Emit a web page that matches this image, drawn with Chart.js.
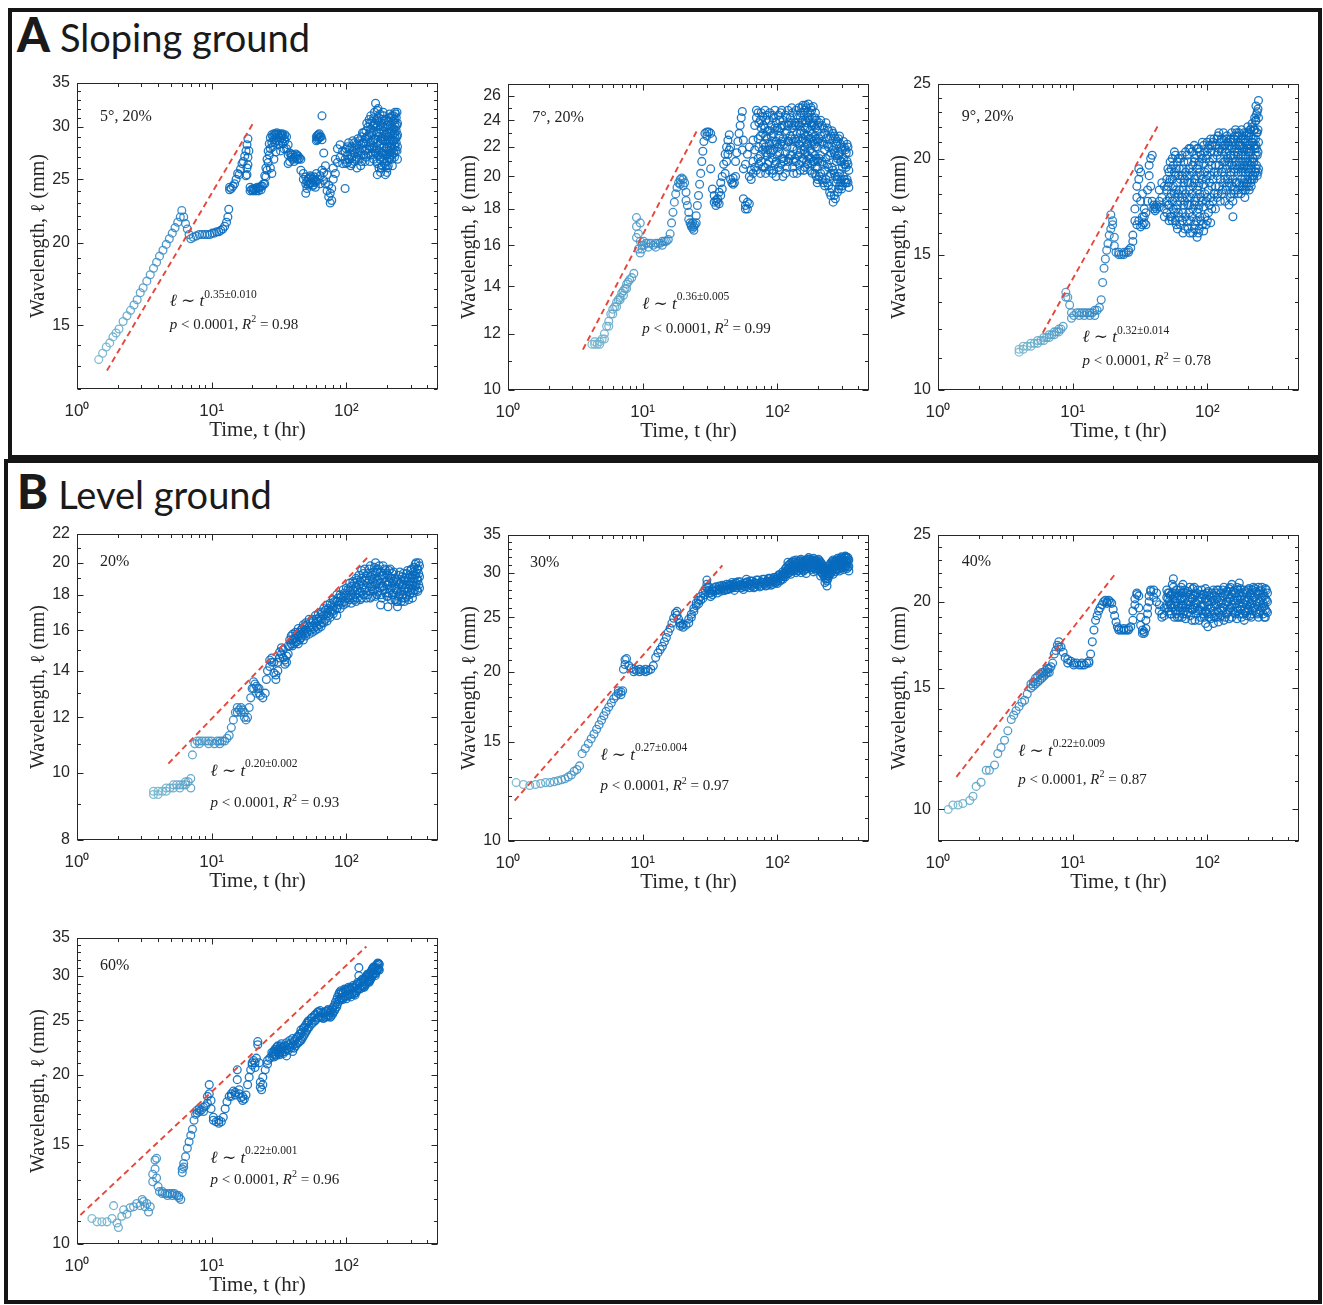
<!DOCTYPE html>
<html><head><meta charset="utf-8">
<script src="https://cdn.jsdelivr.net/npm/chart.js"></script>
<style>
html,body{margin:0;padding:0;background:#fff}
body{width:1323px;height:1305px;position:relative;overflow:hidden}
.box{position:absolute;border:4px solid #151515;box-sizing:border-box}
.hdr{position:absolute;font-family:Lato,"Open Sans",sans-serif;font-size:38px;line-height:1;color:#1a1a1a;white-space:nowrap}
.hdr b{font-size:47px;font-weight:900;margin-right:10px;letter-spacing:0}
.panel{position:absolute}
</style></head>
<body>
<div class="box" style="left:8px;top:8px;width:1314px;height:451px"></div>
<div class="box" style="left:4px;top:459px;width:1318px;height:845px"></div>
<div class="hdr" style="left:17px;top:11px"><b>A</b>Sloping ground</div>
<div class="hdr" style="left:17px;top:468px"><b>B</b>Level ground</div>
<div id="panels"></div>
<script>
// ---------- DATA ----------
// x axis (time, hr) — shared by all panels
const xTicks = [1, 10, 100];
const xTickLabels = ['10\u2070', '10\u00B9', '10\u00B2'];
const xMinorTicks = [2,3,4,5,6,7,8,9,20,30,40,50,60,70,80,90,200,300,400];

// Each row: [time, wavelength, wavelength, ...]  (several circles at about the same time)
const slope5Rows = [
[1.45,13.3],[1.55,13.6],[1.65,13.9],[1.75,14.1],[1.85,14.4],[1.95,14.6],[2.05,14.8],[2.2,15.2],[2.35,15.5],[2.5,15.8],[2.65,16.1],[2.8,16.4],[2.95,16.8],[3.1,17.1],[3.3,17.5],[3.5,17.9],[3.7,18.3],[3.9,18.7],[4.1,19.1],[4.35,19.5],[4.6,19.9],[4.85,20.3],[5.1,20.7],[5.35,21.1],[5.6,21.5],[5.85,21.9],[6.0,22.4],[6.2,21.9],[6.4,21.4],[6.6,21.0],[6.8,20.6],[7.0,20.3],
[7.3,20.4],[7.7,20.5],[8.1,20.6],[8.5,20.6],[8.9,20.6],[9.3,20.6],[9.7,20.6],[10.1,20.7],[10.5,20.7],[10.9,20.8],[11.3,20.8],[11.7,20.9],[12.1,21.0],[12.5,21.2],[12.9,21.5],[13.2,21.9],[13.4,22.5],
[13.6,24.1,24.3],[14.0,24.2],[14.4,24.4],[14.8,24.6],[15.2,25.0],[15.6,25.5],[16.0,25.4],[16.4,25.9],[16.8,26.4],[17.2,26.6],[17.6,27.1],[18.0,27.6,25.3],[18.3,28.2,26.0,25.4],[18.6,28.8,27.0,26.3],[18.9,27.6],
[19.3,24.3,24.0],[19.8,24.1],[20.3,24.2,24.0],[20.8,24.1],[21.3,24.2,24.0],[21.8,24.3],[22.3,24.2,24.0],[22.8,24.3],[23.3,24.4,24.1],[23.8,24.4],[24.3,24.6],
[24.8,25.3,24.6],[25.3,26.0,25.2],[25.8,26.8,25.8],[26.3,27.6,26.5],[26.8,28.3,27.2],[27.3,28.9,27.8,26.0],[28,29.2,28.4,25.5],[29,29.3,28.7,26.8],[30,29.3,28.9,27.5],[31,29.2],[32,29.3,28.6],[33,29.2,28.9],[34,29.1,28.3],[35,29.2,28.6],[36,29.0,27.8],[37,28.2,27.2,26.4],[38,27.4,26.6],[39,27.3,27.0],[40,27.2,26.8],[42,27.3,27.0],[44,27.1,26.8],[46,26.8,25.8],[48,25.5,25.0],[50,25.2,24.6,23.8],[52,25.0,24.5],[54,25.3,24.6],[56,25.0,24.4],[58,25.2,24.7],[60,25.5,24.8,28.6,29.0],[62,25.0,28.8,29.2],[64,25.3,24.6,29.0],[66,31.2,28.7,25.8],[68,25.6,24.9,27.4],[70,26.2,24.6],[72,25.4,24.0],[74,24.5,23.5],[76,23.8,23.0],[78,24.2,23.2],[80,25.0,26.0],[83,26.8,25.5],[86,27.8,26.5],[90,28.2,27.0],[94,27.6,26.4],[98,26.8,24.2,27.5],[102,27.2,26.5,28.0],[106,27.8,26.8],[110,28.0,27.0,26.4],[115,27.4,26.6,28.4],[120,28.2,27.0,26.0],[125,28.6,27.6,26.8],[130,29.0,27.8,26.6],[135,28.4,27.2,29.4],[140,29.6,28.4,27.0],[145,30.0,28.8,27.4],[150,29.4,28.0,26.6,30.4],[155,30.6,29.2,27.8],[160,31.0,29.6,28.0,26.8],[165,32.6,30.4,28.8,27.4],[170,31.8,30.0,28.4,26.4,25.4],[175,31.0,29.4,27.6,26.0],[180,30.2,28.6,27.0,25.6],[185,30.8,29.0,27.4,26.2],[190,31.2,29.6,28.0,26.8],[195,30.0,28.6,27.2,25.4],[200,29.4,28.0,26.6,25.6],[205,30.6,29.0,27.6,26.2],[210,31.4,29.8,28.4,27.0],[215,31.0,29.4,28.0],[220,30.0,28.6,27.2,26.2],[225,31.2,29.8,28.6,27.4],[230,31.6,30.4,29.2,28.0],[235,31.0,29.6,28.4],[240,30.4,29.2,28.0,26.8],
[28.5,29.0,28.0],[29.5,29.2,28.4],[30.5,29.4,28.6],[31.5,29.0,28.2],[32.5,29.2,27.6],[33.5,29.3,28.4],[34.5,28.8,27.8],[41,27.0,26.6],[43,27.2,26.8],[45,26.9],[51,24.8,24.2],[53,24.6,25.1],[55,24.7,25.2],[57,24.5,25.0],[59,24.9,24.3],[61,29.1,28.7],[63,28.9,29.3],[65,29.0],
[100,27.8,26.4],[104,28.4,26.8],[108,27.2,26.2],[112,28.6,27.6],[118,27.8,26.8],[122,28.8,27.4],[128,28.2,27.2,26.2],[132,29.4,28.4],[138,28.8,27.6,26.6],[142,30.4,29.0,27.8],[148,30.8,29.2,27.8],[152,31.2,29.8,28.4,27.2],[158,30.2,28.6,27.4],[162,31.6,30.2,28.8,27.6],[168,30.8,29.4,27.8,26.6],[172,32.0,30.6,29.0,27.2],[178,31.4,29.8,28.2,26.8],[182,30.4,28.8,27.4,26.0],[188,31.6,30.0,28.6,27.2],[192,30.6,29.0,27.6,26.4],[198,30.8,29.2,27.8,26.2],[202,30.2,28.8,27.2,26.0],[208,31.0,29.4,28.0,26.8],[212,30.2,28.6,27.4],[218,31.2,29.6,28.2,26.8],[222,30.6,29.2,27.8],[228,30.8,29.4,28.2,27.0],[232,31.4,30.0,28.8,27.6],[238,31.6,30.2,29.0,27.6]
];
const slope5Fit = [[1.67,12.8],[20.7,30.6]];
const slope5YTicks = [15,20,25,30,35];

const slope7Rows = [
[4.2,11.6],[4.4,11.6,11.7],[4.6,11.6],[4.8,11.7,11.6],[5.0,11.8],[5.2,12.0,11.8],[5.4,12.3],[5.6,12.5,12.3],[5.8,12.8],[6.0,13.0,12.8],[6.2,13.1],[6.4,13.3,13.1],[6.6,13.4],[6.8,13.5,13.4],[7.0,13.7],[7.2,13.8,13.6],[7.4,13.9],[7.6,14.1,13.9],[7.8,14.2],[8.0,14.3],[8.3,14.4],[8.6,14.6],
[9.0,16.4,17.0,17.5],[9.3,15.8,16.6],[9.6,15.6,16.2,17.2],[9.9,16.0,15.8],[10.2,16.2,16.0],[10.6,16.1],[11,16.1,15.9],[11.5,16.1],[12,16.0],[12.5,16.1,15.9],[13,16.1],[13.5,16.1],[14,16.2,16.0],[14.5,16.2],[15,16.2],[15.5,16.3],[16,16.6],[16.4,17.2],[16.8,17.8],[17.2,18.4],[17.6,18.9],[18,19.3],[18.5,19.6],[19,19.8,19.5],[19.5,19.9],[20,19.8,19.4],[20.5,19.6],[21,19.0,18.5],[21.5,18.2],[22,17.8,17.4],[22.5,17.2],[23,17.0,17.1],[23.5,16.9,17.2],[24,17.0,16.8],[24.5,17.1],[25,17.2,17.6],[25.5,18.2],[26,18.8],[26.5,19.5],[27,20.2],[27.5,21.0],[28,21.7],[28.5,22.4],[29,23.0],[30,23.1,22.8],[31,23.1],[32,23.0,20.5],[33,22.6,19.2],[34,18.8,18.4],[35,18.2,18.5],[36,18.4,18.6],[37,18.3,19.0],[38,18.8,19.6],[39,20.0,19.2],[40,20.8],[41,21.5,20.2],[42,22.0,21.0],[43,22.5,21.5],[44,22.9,21.8],[45,22.0,19.8],[46,19.6],[47,19.5,19.9],[48,19.6],[49,20.0,21.0],[50,21.6],[51,22.4],[52,23.0],[53,23.6],[54,24.2],[55,24.7,21.8],[56,22.5,20.5,18.6],[58,18.2,18.0,20.8],[60,18.0,18.4,21.5],[62,18.3,22.0,20.0],[64,19.8,20.4],[66,20.2,21.0,22.5],[68,21.8,23.6,20.6],[70,24.2,24.8,20.4],[72,24.6,22.6,21.2],[75,24.0,22.8,21.4,20.2],[78,24.3,23.0,21.8],[81,24.8,23.4,22.0,20.6],[84,24.4,22.6,21.4],[87,24.0,22.2,21.0,20.4],[90,23.6,22.8,21.6],[94,24.2,23.0,21.8,20.4],[98,23.8,22.4,21.0,20.0],[102,24.4,23.2,22.0,20.6],[106,24.6,23.4,22.2,20.8],[110,24.0,22.6,21.2,20.0],[115,24.4,23.0,21.6,20.2],[120,24.8,23.6,22.4,21.0],[125,24.2,22.8,21.4],[130,24.6,23.4,22.0,20.6],[135,23.8,22.6,21.2],[140,24.4,23.0,21.8,20.2],[145,25.0,23.6,22.2,20.8],[150,24.6,23.2,21.8],[155,25.2,24.0,22.6,21.2],[160,24.8,23.4,22.0,20.6],[165,25.0,23.8,22.4,21.0],[170,25.3,24.2,22.8,21.4],[175,24.6,23.2,21.8,20.4],[180,24.8,23.6,22.2,20.8],[185,25.1,23.8,22.4,21.0],[190,24.2,22.8,21.4,20.2],[195,24.0,22.6,21.2,20.0],[200,23.6,22.4,21.0,19.8],[210,24.0,22.8,21.4,20.2],[220,23.4,22.2,20.8,19.6],[230,23.8,22.6,21.2,19.8],[240,23.2,22.0,20.6,19.4],[250,22.8,21.6,20.2,18.8],[260,23.0,21.8,20.4,18.4],[270,22.6,21.4,20.0,18.6],[280,22.4,21.2,19.8,19.0],[290,22.8,21.6,20.2,19.4],[300,22.0,21.0,19.8,19.2],[310,22.4,21.2,20.0],[320,21.8,20.8,19.6],[330,22.2,21.0,19.8],[340,21.6,20.4,19.3],
[73,23.8,22.0,20.8],[76,24.6,23.4,21.0],[79,23.6,22.2,20.6],[82,24.0,22.8,21.6,20.2],[85,23.2,21.8,20.8],[88,24.6,23.2,21.8],[92,24.4,22.4,21.2,20.2],[96,24.8,23.4,22.2,20.8],[100,23.4,22.2,21.4],[104,24.0,22.8,21.6,20.4],[108,24.8,23.6,22.4,21.2],[112,23.6,22.2,21.0],[118,24.2,23.2,22.0,20.6],[122,23.8,22.4,21.2],[128,25.0,23.8,22.6,21.4],[132,23.6,22.4,21.0,20.2],[138,24.8,23.6,22.4,21.0],[142,23.8,22.6,21.4],[148,24.2,23.0,21.6,20.4],[152,25.0,23.8,22.4,21.0],[158,24.4,23.0,21.8,20.4],[162,25.2,24.0,22.8,21.6],[168,24.6,23.4,22.2,20.8],[172,24.0,22.6,21.2],[178,25.0,23.8,22.6,21.2],[182,24.2,23.0,21.6,20.2],[188,23.6,22.2,21.0],[192,24.6,23.4,22.0,20.6],[198,23.2,22.0,20.6,19.6],[205,23.8,22.6,21.2,20.0],[215,23.6,22.4,21.0,19.8],[225,23.0,21.8,20.4,19.4],[235,23.4,22.2,20.8,19.6],[245,22.6,21.4,20.0,19.0],[255,23.2,22.0,20.6,19.2],[265,22.8,21.6,20.2,18.8],[275,22.2,21.0,19.6],[285,22.6,21.4,20.0,19.2],[295,22.2,21.0,19.6],[305,21.8,20.6,19.4],[315,22.0,20.8,19.8],[325,21.6,20.6,19.6],[335,22.0,20.8,19.6]
];
const slope7Fit = [[3.6,11.4],[25.6,23.3]];
const slope7YTicks = [10,12,14,16,18,20,22,24,26];

const slope9Rows = [
[4.0,11.3,11.2],[4.3,11.3,11.4],[4.6,11.4],[4.9,11.5,11.4],[5.2,11.5],[5.5,11.6,11.5],[5.8,11.6],[6.1,11.7,11.6],[6.4,11.7],[6.7,11.8,11.7],[7.0,11.8],[7.3,11.9,11.8],[7.6,11.9],[7.9,12.0,11.9],[8.2,12.0],[8.5,12.1],
[8.9,13.4,13.2],[9.2,13.2],[9.5,12.9],[9.8,12.6,12.4],[10.2,12.5],[10.7,12.6],[11.2,12.6,12.5],[11.7,12.6],[12.2,12.6,12.5],[12.8,12.6],[13.4,12.6,12.5],[14,12.6],[14.6,12.7,12.5],[15.2,12.7],[15.8,12.8],[16.3,13.1],[16.7,13.8],[17.1,14.4],[17.5,14.8],[17.9,15.2],[18.3,15.5],[18.7,15.9],[19.2,16.2,16.9],[19.8,16.4,16.6],[20.4,15.4,15.8],[21,15.1],[22,15.0,15.1],[23,15.0],[24,15.1,15.0],[25,15.1],[26,15.2,15.1],[27,15.3],[28,15.6,15.9],[29,16.6,17.2],[30,17.8,18.4,16.4],[31,18.8,19.4,16.6],[32,19.2,17.6,16.3],[33,18.0,16.8,16.4],[34,16.5,16.8,17.2],[35,16.4,17.0],[36,17.6,18.2],[37,19.0,19.6],[38,20.0,18.4],[39,20.2,17.6],[40,17.2,17.4],[41,17.3,17.1],[42,17.2,17.4],[44,17.3,17.6,18.2],[46,17.8,18.6],[48,18.4,17.2,16.8],[50,17.0,17.6,18.2,18.8],[52,18.6,19.2,17.4,16.6],[54,19.4,18.0,16.8],[56,17.2,18.4,19.6],[58,16.6,17.8,19.0,20.2],[60,16.2,17.4,18.6,19.8],[63,16.4,17.6,18.8,20.0],[66,17.0,18.2,19.4,16.0],[69,16.8,18.0,19.2,20.4],[72,16.2,17.4,18.6,19.8],[75,16.6,17.8,19.0,20.6],[78,16.0,17.2,18.4,19.6],[81,16.4,17.6,18.8,20.0],[84,15.8,17.0,18.2,19.4,20.6],[87,16.2,17.4,18.6,19.8],[90,16.6,17.8,19.0,20.2],[94,16.1,17.3,18.5,19.7,20.8],[98,16.4,17.6,18.8,20.0],[102,17.0,18.2,19.4,20.6],[106,16.5,17.8,19.0,20.4,21.2],[110,17.6,18.8,20.0,21.0],[115,17.2,18.4,19.6,20.8],[120,18.0,19.2,20.4,21.4],[125,17.6,18.8,20.0,21.0],[130,18.2,19.4,20.6],[135,18.8,19.8,20.8,17.6],[140,18.4,19.6,20.6,21.4],[145,17.4,18.6,19.8,20.8],[150,18.0,19.2,20.2,21.2],[155,17.6,18.8,20.0,21.0,16.8],[160,18.2,19.4,20.4,21.4],[165,18.6,19.6,20.6,21.6],[170,18.0,19.2,20.2,21.0],[175,18.4,19.6,20.8],[180,18.8,19.8,20.8,21.8],[185,18.2,19.2,20.2,21.2],[190,17.8,18.8,19.8,21.0],[195,18.4,19.4,20.4,21.4],[200,18.8,19.8,20.8,22.0],[205,18.2,19.2,20.4,21.6],[210,18.6,19.6,20.6,21.8],[215,18.8,19.8,21.0,22.2],[220,19.0,20.0,21.2],[225,19.2,20.6,21.8,22.6],[230,19.4,20.8,22.4,23.4],[235,19.0,20.2,21.6,23.0],[240,19.4,21.0,22.6,23.8],
[51,17.4,18.4,19.4],[53,16.8,17.8,18.8,19.8],[55,16.6,17.6,18.8,20.0],[57,17.0,18.0,19.2,20.4],[59,16.4,17.2,18.2,19.4],[61,17.0,18.0,19.0,20.0],[62,16.8,18.2,19.4],[65,16.6,17.8,19.0,20.2],[67,17.4,18.6,19.8],[68,16.2,17.6,18.8],[71,16.6,17.8,19.0,20.2],[73,17.0,18.2,19.4,20.6],[74,16.0,17.4,18.6],[77,16.8,18.0,19.2,20.4],[80,16.2,17.4,18.6,19.8,20.8],[83,16.6,17.8,19.0,20.2],[86,16.0,17.2,18.4,19.6,20.6],[88,16.8,18.0,19.2,20.4],[92,16.4,17.6,18.8,20.0,21.0],[96,16.8,18.0,19.2,20.4],[100,16.6,17.8,19.0,20.2,21.0],[104,17.4,18.6,19.8,20.8],[108,17.2,18.4,19.6,20.8],[112,18.0,19.2,20.4,21.2],[118,17.8,19.0,20.2,21.2],[122,18.4,19.6,20.6,21.6],[128,18.0,19.2,20.4,21.2],[132,18.6,19.8,20.8,21.6],[138,18.2,19.4,20.4,21.2],[142,18.8,20.0,21.0],[148,17.8,19.0,20.2,21.2],[152,18.4,19.6,20.6,21.6],[158,18.0,19.2,20.2,21.2],[162,18.6,19.8,20.8,21.8],[168,18.2,19.4,20.4,21.4],[172,18.6,19.8,20.8,21.6],[178,18.0,19.2,20.2,21.2],[182,18.4,19.4,20.4,21.4],[188,18.6,19.6,20.6,21.6],[192,18.2,19.2,20.2,21.2],[198,18.6,19.6,20.6,21.6],[202,18.4,19.4,20.4,21.4],[208,18.8,19.8,20.8,21.8],[212,18.4,19.4,20.4,21.4],[218,19.0,20.0,21.0,22.0],[222,18.8,19.8,20.8,21.8],[228,19.2,20.2,21.2,22.4],[232,19.6,20.6,21.6,22.8],[238,19.2,20.4,21.8,23.2]
];
const slope9Fit = [[6.0,11.87],[43.9,22.2]];
const slope9YTicks = [10,15,20,25];

const level20Rows = [
[3.7,9.4,9.3],[4.0,9.4,9.3],[4.3,9.4],[4.6,9.5,9.4],[4.9,9.5],[5.2,9.5,9.6],[5.5,9.6],[5.8,9.6,9.5],[6.1,9.6],[6.4,9.7,9.6],[6.7,9.7],[7.0,9.8,9.5],
[7.2,10.6],[7.5,11.0],[7.8,11.1],[8.1,11.1,11.0],[8.5,11.1],[9,11.1],[9.5,11.0,11.1],[10,11.1],[10.5,11.0],[11,11.1],[11.5,11.1,11.0],[12,11.1],[12.5,11.1],[13,11.2],[13.5,11.3],[14,11.6],[14.5,11.9],[15,12.2],[15.5,12.4,12.2],[16,12.3],[16.5,12.4,12.2],[17,12.3],[17.5,12.2,12.0],[18,11.9],[18.5,12.0],[19,12.4],[19.5,12.8],[20,13.2],[20.5,13.5,13.2],[21,13.4],[21.5,13.3,13.0],[22,13.2],[22.5,13.0,13.2],[23,12.9],[24,12.8],[25,13.0],[25.5,13.6],[26,14.0],[27,14.5,14.2],[28,14.6,14.4],[29,14.4,13.9],[30,13.8,13.6],[31,14.0,14.4],[32,14.6,14.9],[33,14.8,15.1],[34,15.0,14.6],[35,14.5,14.3],[36,14.4,14.7],[37,15.2,14.8],[38,15.5,15.2],[39,15.7,15.3],[40,15.8,15.5,15.2],[42,15.9,15.4,15.6],[44,16.1,15.7,15.3],[46,16.0,15.6,15.8],[48,16.3,15.9,15.5],[50,16.4,16.0,15.7],[53,16.2,15.8,16.6],[56,16.6,16.2,15.9],[59,16.8,16.4,16.0],[62,16.5,16.1,16.9],[65,17.0,16.6,16.2],[68,17.2,16.8,16.4],[72,16.9,16.5,17.4],[76,17.5,17.1,16.7],[80,17.3,16.9,17.7],[85,17.6,17.2,16.8,18.0],[90,18.0,17.6,17.2],[95,17.8,17.4,18.3],[100,18.4,18.0,17.5],[106,18.2,17.7,18.7],[112,18.8,18.3,17.8],[118,18.5,18.0,19.0,17.6],[124,19.2,18.6,18.1],[130,19.0,18.4,17.8,19.5],[137,19.6,18.9,18.3],[144,19.3,18.7,18.0],[151,19.8,19.1,18.5,17.8],[158,19.4,18.8,18.2],[165,20.0,19.3,18.6,17.9],[172,19.6,18.9,18.2],[180,19.4,18.7,18.0,17.4],[188,19.8,19.2,18.5],[196,19.5,18.8,18.1],[204,19.2,18.6,17.9,17.3],[212,19.6,19.0,18.3],[220,19.3,18.7,18.0],[230,19.0,18.4,17.7],[240,18.8,18.2,17.6,17.3],[250,19.4,18.7,18.0],[260,19.1,18.5,17.8],[270,18.9,18.3,17.6],[280,19.3,18.6,17.9],[290,19.0,18.4,17.7],[300,19.5,18.8,18.1],[310,19.2,18.6,17.8],[320,19.7,19.0,18.3],[330,20.0,19.3,18.6],[340,19.6,18.9,18.2],[350,19.8,19.1,18.4],
[41,15.6,15.3],[43,15.8,15.4],[45,15.9,15.5],[47,16.1,15.7],[49,16.2,15.8],[51,16.3,15.9],[54,16.4,16.0],[57,16.5,16.1],[60,16.6,16.2],[63,16.7,16.3],[66,16.9,16.4],[70,17.1,16.6],[74,17.2,16.8],[78,17.4,17.0],[82,17.6,17.1],[87,17.8,17.4],[92,17.9,17.5],[97,18.1,17.6],[103,18.3,17.8],[109,18.5,18.0,17.5],[115,18.7,18.2,17.7],[121,18.9,18.3,17.8],[127,18.8,18.2,17.7],[134,19.3,18.6,18.0],[141,19.0,18.4,17.8],[148,19.6,18.9,18.2],[155,19.2,18.5,17.9],[162,19.7,19.0,18.3],[169,19.4,18.7,18.0],[176,19.8,19.0,18.4],[184,19.2,18.5,17.8],[192,19.6,19.0,18.3],[200,19.3,18.6,17.9],[208,19.5,18.8,18.1],[216,19.0,18.4,17.7],[225,19.4,18.8,18.1],[235,18.9,18.3,17.6],[245,19.2,18.6,17.9],[255,18.8,18.2,17.6],[265,19.3,18.6,18.0],[275,19.0,18.4,17.8],[285,19.5,18.8,18.2],[295,19.2,18.6,18.0],[305,19.6,19.0,18.3],[315,19.4,18.8,18.1],[325,19.9,19.2,18.5],[335,19.6,19.0,18.3],[345,20.0,19.3,18.6]
];
const level20Fit = [[4.77,10.3],[149,20.5]];
const level20YTicks = [8,10,12,14,16,18,20,22];

const level30Rows = [
[1.15,12.7],[1.3,12.6],[1.45,12.55],[1.6,12.6],[1.75,12.65],[1.9,12.7],[2.05,12.7],[2.2,12.75],[2.35,12.8],[2.5,12.85],[2.65,12.9],[2.8,13.0],[2.95,13.1],[3.1,13.3],[3.25,13.4],[3.4,13.6],[3.55,14.3],[3.75,14.6],[3.95,14.9],[4.15,15.2],[4.35,15.5],[4.55,15.8],[4.75,16.1],[4.95,16.4],[5.15,16.7],[5.35,17.0],[5.6,17.3],[5.85,17.6],[6.1,17.9],[6.35,18.1],[6.6,18.3,18.5],[6.9,18.4,18.2],[7.1,18.5],
[7.2,20.2],[7.4,21.0,20.6],[7.6,21.1],[7.9,20.5],[8.2,20.3],[8.6,20.2,20.0],[9,20.1],[9.5,20.2,20.0],[10,20.1],[10.5,20.2,20.0],[11,20.1],[11.5,20.2],[12,20.5],[12.5,21.2],[13,21.6],[13.5,21.9],[14,22.2],[14.5,22.6],[15,23.0],[15.5,23.5],[16,23.9],[16.5,24.4],[17,24.9],[17.5,25.4],[18,25.6,25.2],[18.5,24.8],[19,24.4,24.1],[19.5,24.2],[20,24.0,24.3],[21,24.2],[22,24.4,24.8],[23,25.0,25.3],[24,25.6,25.9],[25,26.2,26.5],[26,26.8,26.4],[27,27.2,26.8],[28,27.6,27.0],[29,28.0,27.4],[30,28.6,28.2,29.1],[31,28.3,27.6],[32,27.2,27.6],[33,27.4,27.8],[34,27.8,28.2],[36,27.6,28.0],[38,28.2,27.8],[40,27.9,28.4],[42,28.6,28.0],[44,28.1,28.6],[46,28.8,28.3],[48,28.4,27.9],[50,28.2,28.7],[53,28.9,28.4],[56,28.5,28.0],[59,28.3,28.8,29.2],[62,28.7,28.2],[65,28.4,29.0],[68,28.8,28.3],[72,28.5,29.1],[76,28.9,28.4],[80,28.6,29.2],[84,29.0,28.5],[88,28.7,29.3],[92,29.1,28.6],[96,28.8,29.4],[100,29.0,29.5,28.7],[105,29.4,29.8,29.0],[110,29.6,30.1,29.2],[115,30.0,30.5,29.5],[120,30.4,30.9,29.9,31.3],[126,30.7,31.2,30.2,29.8],[132,31.0,31.5,30.4],[138,30.6,31.1,30.0,31.6],[144,30.9,31.4,30.3],[150,31.2,31.7,30.6,30.0],[157,30.8,31.3,30.2],[164,31.1,31.6,30.5,29.9],[171,31.4,31.9,30.8],[178,31.0,31.5,30.4],[186,31.3,31.8,30.7,30.1],[194,30.9,31.4,30.3],[202,31.2,31.7,30.6],[210,30.8,31.3,30.1,29.6],[218,30.4,30.9,29.8],[226,30.0,30.6,29.4,28.8],[234,29.6,30.2,29.0,28.4],[242,30.2,30.8,29.6],[250,30.6,31.2,30.0],[260,31.0,31.6,30.4,29.8],[270,30.7,31.3,30.1],[280,31.2,31.8,30.5],[290,30.9,31.5,30.2],[300,31.4,32.0,30.8],[310,31.0,31.6,30.4],[320,31.5,32.1,30.8],[330,31.2,31.8,30.5],[340,31.6,30.8,30.2],
[31,27.9],[33,28.0],[35,27.9,28.3],[37,28.0,28.4],[39,28.1,28.5],[41,28.3,27.9],[43,28.4,28.0],[45,28.5,28.1],[47,28.6,28.2],[49,28.4,28.8],[51,28.5,28.9],[54,28.6,28.2],[57,28.7,28.3],[60,28.5,28.9],[63,28.6,29.0],[67,28.6,28.2],[70,28.7,29.1],[74,28.7,28.3],[78,28.8,29.2],[82,28.8,28.4],[86,28.9,29.3],[90,28.9,28.5],[94,29.0,29.4],[98,29.2,28.8],[102,29.3,29.7],[107,29.6,29.2],[112,29.9,29.5],[117,30.2,29.8,30.6],[123,30.5,30.0,31.0],[129,30.8,30.3,31.3],[135,30.8,30.3,31.3],[141,30.7,30.2,31.2],[147,31.0,30.5,31.5],[153,31.0,30.4,31.5],[160,30.9,30.4,31.5],[167,31.2,30.7,31.7],[174,31.2,30.6,31.7],[182,31.1,30.6,31.6],[190,31.1,30.5,31.6],[198,31.0,30.5,31.5],[206,31.0,30.4,31.5],[214,30.6,30.0,31.1],[222,30.2,29.6,30.7],[230,29.8,29.2,30.4],[238,29.9,29.3,30.5],[246,30.4,29.8,31.0],[255,30.8,30.2,31.4],[265,30.9,30.3,31.4],[275,31.0,30.4,31.6],[285,31.0,30.4,31.6],[295,31.2,30.6,31.8],[305,31.2,30.6,31.8],[315,31.3,30.7,31.9],[325,31.4,30.8,32.0],[335,31.4,30.7,31.9]
];
const level30Fit = [[1.12,11.8],[39.1,30.9]];
const level30YTicks = [10,15,20,25,30,35];

const level40Rows = [
[1.19,10.0],[1.29,10.15],[1.41,10.15],[1.53,10.2],[1.72,10.3],[1.82,10.45],[1.92,10.8],[2.09,10.95],[2.28,11.4],[2.41,11.4],[2.63,11.6],[2.78,12.05],[2.94,12.3],[3.12,12.6],[3.3,13.0],[3.5,13.5],[3.65,13.7],[3.8,13.9],[4.0,14.1],[4.2,14.3],[4.4,14.4],[4.6,14.7],[4.9,15.0,15.2],[5.1,15.3,15.1],[5.3,15.5,15.2],[5.5,15.6,15.3],[5.7,15.7,15.4],[5.9,15.8,15.5],[6.1,15.8,15.6],[6.3,15.9,15.7],[6.5,16.0,15.8],[6.7,16.0,15.8],[6.9,16.1],[7.1,16.3],[7.3,16.8],[7.5,17.0],[7.7,17.3],[7.9,17.5,17.2],[8.2,17.2],[8.5,16.9],[8.8,16.6],[9.2,16.5,16.3],[9.7,16.4],[10.2,16.3,16.2],[10.7,16.3],[11.2,16.2],[11.7,16.3,16.2],[12.2,16.2],[12.7,16.3],[13.2,16.3,16.4],[13.6,16.8],[14.0,17.5],[14.4,18.2],[14.8,18.8],[15.2,19.1],[15.6,19.4],[16.0,19.6],[16.5,19.8],[17,20.0],[17.5,20.1],[18,20.0,19.9],[18.5,20.1],[19,20.0],[19.5,19.9],[20,19.5],[20.5,19.1],[21,18.7],[21.5,18.4],[22,18.3,18.2],[23,18.2],[24,18.2,18.3],[25,18.2],[26,18.3,18.2],[27,18.4],[28,18.8,19.4],[29,19.8,20.2],[30,20.5,20.6],[31,20.4,19.6],[32,19.0,18.5],[33,18.2,18.0],[34,18.0,18.1],[35,18.3,18.8],[36,19.2,19.6],[37,20.0,20.4],[38,20.7,20.8],[40,20.8,20.3],[42,20.6,20.0],[44,19.8,19.4],[46,19.0,19.2],[48,19.1,19.6],[50,19.8,20.3,20.8],[52,20.6,20.0,19.4],[54,19.2,19.8,20.5],[56,21.6,21.0,20.2],[58,19.4,20.0,20.6],[60,19.0,19.7,20.4],[63,20.2,20.8,19.4],[66,19.2,19.8,20.6,21.2],[69,18.9,19.6,20.4],[72,20.0,20.7,19.3],[75,19.1,19.8,20.5],[78,20.2,20.9,19.5],[81,18.8,19.6,20.4],[85,19.4,20.1,20.8],[89,19.0,19.7,20.5],[93,19.8,20.5,19.2],[97,18.6,19.4,20.2,20.9],[101,18.4,19.2,20.0,20.7],[106,19.6,20.3,18.9],[111,18.6,19.4,20.1,20.8],[116,19.0,19.8,20.6],[121,19.3,20.0,20.8,18.7],[127,19.1,19.9,20.6],[133,18.8,19.6,20.4,21.0],[139,19.2,20.0,20.7],[145,19.5,20.2,20.9,18.9],[152,19.0,19.8,20.5,21.2],[159,19.3,20.1,20.8],[166,19.6,20.3,21.0,18.9],[173,19.2,19.9,20.6,21.3],[180,19.0,19.7,20.4],[188,19.4,20.1,20.8,18.8],[196,19.1,19.8,20.6],[204,19.5,20.2,20.9],[212,19.2,19.9,20.6,19.0],[220,19.6,20.3,21.0],[230,19.3,20.0,20.7],[240,19.0,19.7,20.5,21.0],[250,19.4,20.1,20.8],[260,19.2,19.9,20.6],[270,19.5,20.2,20.9,19.0],[280,19.3,20.0,20.6],
[51,19.6,20.2,20.6],[53,19.8,20.4,19.2],[55,19.6,20.6,21.2],[57,19.8,20.4,19.0],[59,19.2,20.2,20.8],[62,19.6,20.4,19.0],[64,19.8,20.6,21.0],[65,19.0,19.6,20.2],[68,19.4,20.2,20.8],[70,19.2,19.8,20.6],[74,19.6,20.3,21.0],[77,18.8,19.5,20.2],[80,19.8,20.5,21.0],[83,19.2,19.9,20.6],[87,18.8,19.5,20.3],[91,19.4,20.2,20.8],[95,19.0,19.7,20.5],[99,19.3,20.0,20.6],[103,19.0,19.8,20.4],[108,19.2,20.0,20.6],[113,19.0,19.7,20.4],[118,19.4,20.2,20.8],[124,19.0,19.6,20.3],[130,19.4,20.1,20.8],[136,19.0,19.8,20.5],[142,19.3,20.0,20.7],[148,19.6,20.3,21.0],[155,19.4,20.1,20.7],[162,19.2,19.9,20.6],[169,19.4,20.1,20.8],[176,19.5,20.2,20.9],[184,19.2,19.9,20.6],[192,19.3,20.0,20.7],[200,19.4,20.1,20.8],[208,19.1,19.8,20.5],[216,19.4,20.1,20.8],[225,19.6,20.3,20.9],[235,19.2,19.9,20.6],[245,19.3,20.0,20.7],[255,19.6,20.3,21.0],[265,19.0,19.7,20.4],[275,19.4,20.1,20.8]
];
const level40Fit = [[1.37,11.15],[20.9,22.0]];
const level40YTicks = [10,15,20,25];

const level60Rows = [
[1.29,11.1],[1.41,10.95],[1.53,10.95],[1.67,10.95],[1.82,11.1],[1.87,11.7],[1.98,10.9],[2.03,10.7],[2.15,11.2],[2.22,11.5],[2.35,11.3],[2.48,11.6],[2.63,11.65],[2.78,11.8],[2.94,11.7],[3.05,12.0],[3.12,11.9],[3.2,11.65],[3.3,11.8],[3.4,11.4],[3.5,11.65],[3.65,12.9,13.3],[3.8,14.1,13.6],[3.9,14.2,13.1],[4.0,12.65],[4.1,12.4],[4.3,12.3,12.4],[4.5,12.3],[4.7,12.3,12.2],[4.9,12.3],[5.1,12.3,12.2],[5.3,12.3],[5.5,12.2],[5.7,12.2,12.1],[5.9,12.0],
[6.05,13.4,13.6],[6.2,13.9,13.7],[6.4,14.3],[6.6,14.8],[6.8,15.2],[7.0,15.6],[7.2,16.0],[7.4,16.6],[7.6,17.0],[7.8,17.3,17.1],[8.1,17.4,17.2],[8.4,17.3],[8.7,17.5,17.2],[9.0,17.6],[9.3,17.8,18.3],[9.6,19.2,18.5],[9.9,18.0,17.4],[10.3,16.8,16.6],[10.8,16.5],[11.3,16.4,16.6],[11.8,16.5],[12.2,16.8],[12.6,17.4],[13.0,17.9],[13.5,18.3],[14,18.5,18.3],[14.5,18.7],[15,18.6,18.4],[15.5,19.6,20.4],[16,18.8,18.5],[16.5,18.2],[17,18.0,18.3],[17.5,18.1],[18,18.4],[18.5,19.2],[19,19.8],[19.5,20.4],[20,20.8,21.0],[20.5,21.2],[21,21.0,20.6],[21.5,21.4],[22,22.6,22.9],[22.5,21.0],[23,19.4,19.0],[23.5,18.8],[24,19.2,19.8],[25,20.4],[26,20.9,21.2],[27,21.4],[28,21.6,21.9],[29,22.0,21.5],[30,22.2,21.6],[31,22.5,21.9],[32,22.3,21.7],[33,22.7,22.1],[34,22.4,21.8],[36,22.8,22.2,21.6],[38,23.0,22.4],[40,22.6,22.0,23.2],[42,23.1,22.5],[44,23.4,22.8],[46,23.7,23.0,24.0],[48,24.2,23.4],[50,24.5,23.8],[52,24.9,24.2],[55,25.2,24.6],[58,25.5,24.9],[61,25.8,25.2],[64,26.0,25.4],[67,25.7,25.2],[70,25.9,25.3],[73,26.1,25.5],[76,25.8,25.3],[79,26.2,25.6],[82,26.6,26.0],[85,27.2,26.4],[88,27.8,27.0],[91,28.2,27.4],[94,27.9,27.2],[97,28.4,27.6],[100,28.1,27.3],[104,28.6,27.8],[108,28.3,27.5],[112,28.8,28.0],[116,28.5,27.7],[120,29.0,28.2],[124,30.0,31.0],[128,29.2,28.5],[132,29.6,28.8],[136,29.3,28.6],[140,29.8,29.0],[144,30.2,29.4],[148,29.9,29.2],[152,30.4,29.6],[156,30.8,30.0],[160,31.1,30.3],[164,30.8,30.0],[168,31.3,30.6],[172,31.6,30.9],[176,31.4,30.7],
[28.5,21.8],[29.5,21.7,22.2],[30.5,22.0,22.4],[31.5,22.2,21.8],[32.5,22.0,22.5],[33.5,22.3,21.9],[35,22.5,22.0],[37,22.6,22.1],[39,22.8,22.3],[41,22.9,22.3],[43,23.3,22.7],[45,23.6,22.9],[47,23.8,23.2],[49,24.3,23.6],[51,24.7,24.0],[53,24.9,24.3],[56,25.3,24.7],[59,25.6,25.0],[62,25.9,25.3],[65,25.8,25.3],[68,25.8,25.2],[71,25.9,25.4],[74,26.0,25.4],[77,26.0,25.4],[80,26.4,25.8],[83,26.9,26.2],[86,27.5,26.7],[89,28.0,27.2],[92,28.0,27.3],[95,28.1,27.4],[98,28.3,27.5],[102,28.4,27.6],[106,28.5,27.7],[110,28.6,27.8],[114,28.6,27.8],[118,28.8,28.0],[122,29.2,28.4],[126,29.1,28.4],[130,29.4,28.7],[134,29.5,28.7],[138,29.6,28.8],[142,30.0,29.2],[146,30.1,29.3],[150,30.2,29.4],[154,30.6,29.8],[158,31.0,30.2],[162,31.0,30.2],[166,31.1,30.3],[170,31.5,30.8],[174,31.5,30.8]
];
const level60Fit = [[1.06,11.26],[141,33.8]];
const level60YTicks = [10,15,20,25,30,35];

const panelLabels = ['5\u00B0, 20%', '7\u00B0, 20%', '9\u00B0, 20%', '20%', '30%', '40%', '60%'];
const fitExponents = ['0.35\u00B10.010', '0.36\u00B10.005', '0.32\u00B10.014', '0.20\u00B10.002', '0.27\u00B10.004', '0.22\u00B10.009', '0.22\u00B10.001'];
const fitR2 = ['0.98', '0.99', '0.78', '0.93', '0.97', '0.87', '0.96'];
const yLimits = [[12,35],[10,27],[10,25],[8,22],[10,35],[9,25],[10,35]];
const xLimits = [1, 480];

// ---------- LAYOUT / STYLE ----------
const SERIF = '"Liberation Serif","DejaVu Serif",serif';
const SANS = '"Liberation Sans",Arimo,Helvetica,Arial,sans-serif';
const INK = '#262626';
const YW = 56, XH = 56, PT = 20, PR = 14, PW = 361, PH = 306;
const panels = [
  {rows: slope5Rows,  fit: slope5Fit,  yt: slope5YTicks,  left: 77,  top: 83,  lab: [0.064, 0.112], txt: [0.257, 0.715, 0.79]},
  {rows: slope7Rows,  fit: slope7Fit,  yt: slope7YTicks,  left: 508, top: 84,  lab: [0.067, 0.112], txt: [0.372, 0.72, 0.80]},
  {rows: slope9Rows,  fit: slope9Fit,  yt: slope9YTicks,  left: 938, top: 84,  lab: [0.066, 0.108], txt: [0.40, 0.83, 0.905]},
  {rows: level20Rows, fit: level20Fit, yt: level20YTicks, left: 77,  top: 534, lab: [0.064, 0.092], txt: [0.37, 0.775, 0.88]},
  {rows: level30Rows, fit: level30Fit, yt: level30YTicks, left: 508, top: 535, lab: [0.061, 0.092], txt: [0.256, 0.72, 0.82]},
  {rows: level40Rows, fit: level40Fit, yt: level40YTicks, left: 938, top: 535, lab: [0.066, 0.088], txt: [0.222, 0.706, 0.80]},
  {rows: level60Rows, fit: level60Fit, yt: level60YTicks, left: 77,  top: 938, lab: [0.064, 0.092], txt: [0.37, 0.72, 0.79]},
];

function intRange(a, b) { const r = []; for (let v = Math.ceil(a); v <= b; v++) r.push(v); return r; }
function mix(a, b, f) { return a.map((v, i) => Math.round(v + (b[i] - v) * f)); }
const LIGHT = [120, 184, 206], DARK = [8, 106, 190];

function drawRuns(ctx, x, y, runs) {
  let cx = x;
  for (const r of runs) {
    ctx.font = r.f;
    ctx.fillText(r.t, cx, y + (r.dy || 0));
    cx += ctx.measureText(r.t).width;
  }
}

function framePlugin(i) {
  const p = panels[i];
  return {
    id: 'frame' + i,
    afterDatasetsDraw(chart) {
      const ctx = chart.ctx, xs = chart.scales.x, ys = chart.scales.y;
      const {left, right, top, bottom} = chart.chartArea;
      ctx.save();
      ctx.strokeStyle = INK; ctx.lineWidth = 1;
      const L = Math.round(left) + 0.5, R = Math.round(right) - 0.5, T = Math.round(top) + 0.5, B = Math.round(bottom) - 0.5;
      ctx.strokeRect(L, T, R - L, B - T);
      ctx.beginPath();
      const xt = (v, len) => { const px = Math.round(xs.getPixelForValue(v)) + 0.5; ctx.moveTo(px, B); ctx.lineTo(px, B - len); ctx.moveTo(px, T); ctx.lineTo(px, T + len); };
      const yt = (v, len) => { const py = Math.round(ys.getPixelForValue(v)) + 0.5; ctx.moveTo(L, py); ctx.lineTo(L + len, py); ctx.moveTo(R, py); ctx.lineTo(R - len, py); };
      xTicks.forEach(v => xt(v, 6));
      xMinorTicks.forEach(v => xt(v, 3.5));
      const [y0, y1] = yLimits[i];
      intRange(y0, y1).forEach(v => yt(v, p.yt.includes(v) ? 6 : 3.5));
      ctx.stroke();
      // annotations
      ctx.fillStyle = '#222'; ctx.textBaseline = 'middle'; ctx.textAlign = 'left';
      const w = right - left, h = bottom - top;
      ctx.font = `16px ${SERIF}`;
      ctx.fillText(panelLabels[i], left + p.lab[0] * w, top + p.lab[1] * h);
      const tx = left + p.txt[0] * w;
      drawRuns(ctx, tx, top + p.txt[1] * h, [
        {t: '\u2113', f: `italic 17px ${SERIF}`},
        {t: ' \u223C ', f: `17px ${SERIF}`},
        {t: 't', f: `italic 17px ${SERIF}`},
        {t: fitExponents[i], f: `11.5px ${SERIF}`, dy: -7},
      ]);
      drawRuns(ctx, tx, top + p.txt[2] * h, [
        {t: 'p', f: `italic 15px ${SERIF}`},
        {t: ' < 0.0001, ', f: `15px ${SERIF}`},
        {t: 'R', f: `italic 15px ${SERIF}`},
        {t: '2', f: `10px ${SERIF}`, dy: -5},
        {t: ' = ' + fitR2[i], f: `15px ${SERIF}`},
      ]);
      ctx.restore();
    }
  };
}

const host = document.getElementById('panels');
panels.forEach((p, i) => {
  const div = document.createElement('div');
  div.className = 'panel';
  const W = YW + PW + PR, H = PT + PH + XH;
  div.style.cssText = `left:${p.left - YW}px;top:${p.top - PT}px;width:${W}px;height:${H}px`;
  const cv = document.createElement('canvas');
  div.appendChild(cv); host.appendChild(div);
  const pts = p.rows.flatMap(r => r.slice(1).map(l => ({x: r[0], y: l})));
  const t0 = p.rows[0][0];
  const [yMin, yMax] = yLimits[i];
  new Chart(cv, {
    type: 'scatter',
    data: {
      datasets: [
        {data: p.fit.map(([x, y]) => ({x, y})), showLine: true, borderColor: '#e5473b', borderWidth: 1.9,
         borderDash: [6, 4], pointRadius: 0, order: 0},
        {data: pts, pointRadius: 3.9, pointBorderWidth: 1.3, pointBackgroundColor: 'rgba(0,0,0,0)',
         pointBorderColor: c => { const f = Math.min(1, Math.max(0, Math.log10(c.raw.x / t0) / 0.9)); return `rgba(${mix(LIGHT, DARK, f).join(',')},0.9)`; },
         order: 1},
      ]
    },
    options: {
      responsive: true, maintainAspectRatio: false, animation: false, events: [],
      layout: {padding: {top: PT, right: PR, left: 0, bottom: 0}},
      plugins: {legend: {display: false}, tooltip: {enabled: false}},
      scales: {
        x: {
          type: 'logarithmic', min: xLimits[0], max: xLimits[1],
          grid: {display: false, drawTicks: false}, border: {display: false},
          afterBuildTicks: s => { s.ticks = xTicks.map(v => ({value: v})); },
          afterFit: s => { s.height = XH; },
          ticks: {callback: (v, idx) => xTickLabels[idx], autoSkip: false, maxRotation: 0, padding: 12,
                  color: INK, font: {family: SANS, size: 17}},
          title: {display: true, text: 'Time, t (hr)', color: INK, font: {family: SERIF, size: 21}, padding: {top: 0, bottom: 2}}
        },
        y: {
          type: 'logarithmic', min: yMin, max: yMax,
          grid: {display: false, drawTicks: false}, border: {display: false},
          afterBuildTicks: s => { s.ticks = p.yt.map(v => ({value: v})); },
          afterFit: s => { s.width = YW; },
          ticks: {callback: v => String(v), autoSkip: false, padding: 7, color: INK, font: {family: SANS, size: 16}},
          title: {display: true, text: 'Wavelength, \u2113 (mm)', color: INK, font: {family: SERIF, size: 20}, padding: {top: 6, bottom: 0}}
        }
      }
    },
    plugins: [framePlugin(i)]
  });
});
</script>
</body></html>
